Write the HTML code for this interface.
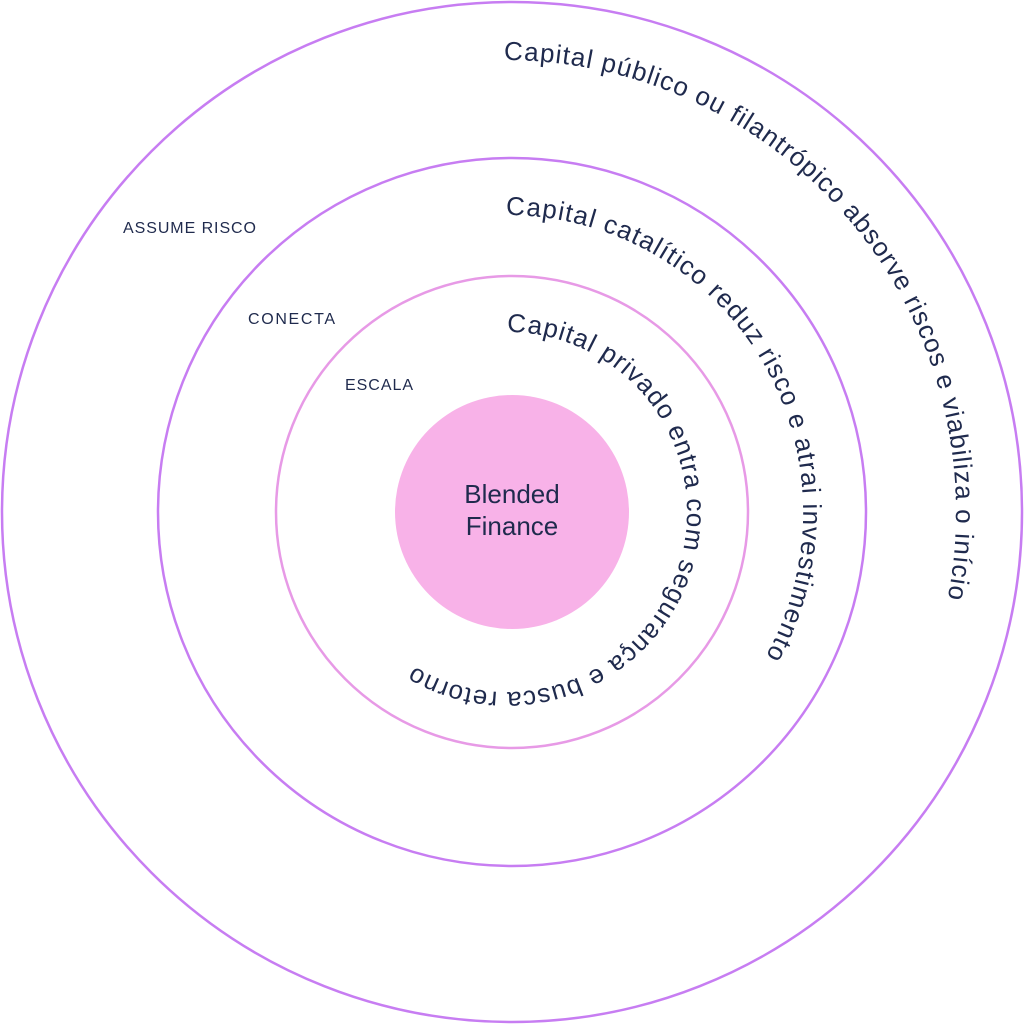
<!DOCTYPE html>
<html><head><meta charset="utf-8"><style>
html,body{margin:0;padding:0;background:#fff;}
svg{display:block;}
text{font-family:"Liberation Sans",sans-serif;fill:#1f2a4d;}
</style></head><body>
<svg width="1024" height="1024" viewBox="0 0 1024 1024" xmlns="http://www.w3.org/2000/svg">
<defs>
<path id="p1" d="M 504,60 A 452,452 0 1 1 504,964 A 452,452 0 1 1 504,60"/>
<path id="p2" d="M 506,215 A 297,297 0 1 1 506,809 A 297,297 0 1 1 506,215"/>
<path id="p3" d="M 507,332 A 180,180 0 1 1 507,692 A 180,180 0 1 1 507,332"/>
</defs>
<circle cx="512" cy="512" r="510" fill="none" stroke="#c77df2" stroke-width="2.5"/>
<circle cx="512" cy="512" r="354" fill="none" stroke="#c77df2" stroke-width="2.5"/>
<circle cx="512" cy="512" r="236" fill="none" stroke="#e79ae6" stroke-width="2.5"/>
<circle cx="512" cy="512" r="117" fill="#f8b2e8"/>
<text font-size="26"><textPath href="#p1" textLength="797" lengthAdjust="spacing">Capital público ou filantrópico absorve riscos e viabiliza o início</textPath></text>
<text font-size="26"><textPath href="#p2" textLength="617" lengthAdjust="spacing">Capital catalítico reduz risco e atrai investimento</textPath></text>
<text font-size="26"><textPath href="#p3" textLength="663" lengthAdjust="spacing">Capital privado entra com segurança e busca retorno</textPath></text>
<text x="123" y="233" font-size="16" textLength="133" lengthAdjust="spacing">ASSUME RISCO</text>
<text x="248" y="324" font-size="16" textLength="87" lengthAdjust="spacing">CONECTA</text>
<text x="345" y="390" font-size="16" textLength="68" lengthAdjust="spacing">ESCALA</text>
<text x="512" y="503" font-size="26" text-anchor="middle">Blended</text>
<text x="512" y="535" font-size="26" text-anchor="middle">Finance</text>
</svg>
</body></html>
